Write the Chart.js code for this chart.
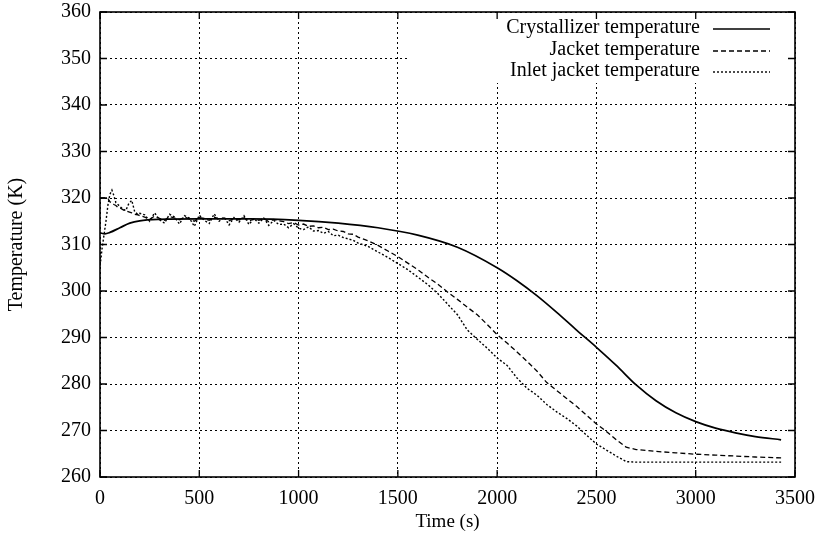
<!DOCTYPE html>
<html>
<head>
<meta charset="utf-8">
<script src="https://cdn.jsdelivr.net/npm/chart.js@4/dist/chart.umd.min.js"></script>
<style>
  html, body { margin: 0; padding: 0; background: #fff; }
  #wrap { width: 821px; height: 543px; }
</style>
</head>
<body>
<div id="wrap"><canvas id="tempChart" width="821" height="543"></canvas></div>
<script>
/* Values */
var seriesNames = ['Crystallizer temperature', 'Jacket temperature', 'Inlet jacket temperature'];
var xTicks = [0, 500, 1000, 1500, 2000, 2500, 3000, 3500];
var yTicks = [260, 270, 280, 290, 300, 310, 320, 330, 340, 350, 360];

var crystTime = [0, 25, 50, 100, 150, 200, 300, 500, 750, 1000, 1200, 1400, 1600, 1800, 2000,
    2100, 2200, 2300, 2400, 2500, 2600, 2700, 2800, 2900, 3000, 3100, 3200, 3300, 3430];
var crystTemp = [312.5, 312.3, 312.6, 313.6, 314.6, 315.1, 315.4, 315.5, 315.5, 315.2, 314.6, 313.6, 312.0, 309.4, 305.0,
    302.2, 299.0, 295.4, 291.6, 287.9, 284.0, 279.8, 276.4, 273.8, 271.9, 270.5, 269.5, 268.7, 268.0];

// sample times shared by the two jacket series
var jacketTime = [0, 5, 10, 20, 30, 40, 50, 60, 70, 80, 90, 100, 115, 130, 145, 160, 175, 190, 200,
    225, 250, 275, 300, 325, 350, 375, 400, 425, 450, 475, 500, 525, 550, 575, 600, 625, 650, 675, 700,
    725, 750, 775, 800, 825, 850, 875, 900,
    925, 950, 975, 1000, 1025, 1050, 1075, 1100, 1125, 1150, 1175, 1200, 1225, 1250, 1275, 1300,
    1350, 1400, 1450, 1500, 1550, 1600, 1650, 1700, 1750, 1800, 1850, 1900, 1950, 2000,
    2050, 2100, 2150, 2200, 2250, 2300, 2350, 2400, 2450, 2500, 2550, 2600, 2650, 2700,
    2800, 2900, 3000, 3100, 3200, 3300, 3430];
var jacketTemp = [320, 320, 320, 320, 320, 319.9, 319.2, 318.9, 318.6, 318.4, 318.0, 317.9, 317.5, 317.2, 317.0, 316.8, 316.5, 316.4, 316.2,
    315.9, 315.4, 316.1, 315.6, 315.2, 316.0, 315.7, 315.3, 315.9, 315.5, 315.0, 315.8, 315.6, 315.2, 315.9, 315.4, 315.7, 315.1,
    315.6, 315.3, 315.8, 315.0, 315.5, 315.2, 315.6, 314.9, 315.4, 315.1,
    314.9, 314.5, 314.7, 314.2, 314.4, 313.9, 314.0, 313.6, 313.7, 313.2, 313.3, 312.9, 312.8, 312.3, 312.2, 311.6,
    310.8, 309.8, 308.6, 307.4, 306.0, 304.6, 303.0, 301.5, 299.8, 298.2, 296.5, 294.9, 292.8, 290.6,
    288.8, 286.9, 284.9, 282.8, 280.3, 278.6, 276.9, 275.2, 273.3, 271.4, 269.8, 268.0, 266.4, 265.9,
    265.5, 265.2, 264.9, 264.7, 264.5, 264.3, 264.1];
var inletTemp = [305.5, 307, 309, 312, 315, 318.5, 320.8, 321.7, 320.5, 319, 318.6, 318.2, 317.6, 317.3, 318.8, 319.5, 317.0, 316.5, 316.7,
    316.4, 315.0, 316.8, 315.3, 314.6, 316.5, 315.9, 314.4, 316.2, 315.7, 313.9, 316.3, 315.2, 314.5, 316.6, 315.0, 315.9, 314.2,
    315.8, 314.8, 316.2, 314.3, 315.6, 314.6, 315.7, 314.1, 315.2, 314.3,
    314.4, 313.6, 314.5, 313.5, 313.2, 313.8, 312.9, 313.0, 312.4, 312.8, 311.9, 312.0, 311.5, 311.2, 310.9, 310.3,
    309.6, 308.4, 307.2, 305.9, 304.6, 303.0, 301.4, 299.5, 297.2, 294.9, 291.6, 289.6, 287.7, 285.6,
    284.0, 281.3, 279.1, 277.6, 275.6, 274.0, 272.6, 271.0, 269.0, 267.1, 265.8, 264.5, 263.3, 263.2,
    263.2, 263.2, 263.2, 263.2, 263.2, 263.2, 263.2];

/* Pair up x and y arrays for a scatter-style line */
function toPoints(xs, ys) {
    var pts = [];
    for (var i = 0; i < xs.length; i++) {
        pts.push({x: xs[i], y: ys[i]});
    }
    return pts;
}

var FONT = 'Liberation Serif, Times New Roman, serif';

/* Frame, inward ticks and the gnuplot style legend */
var framePlugin = {
    id: 'frame',
    beforeDraw: function(chart) {
        var ctx = chart.ctx;
        ctx.save();
        ctx.fillStyle = '#fff';
        ctx.fillRect(0, 0, chart.width, chart.height);
        ctx.restore();
    },
    afterDraw: function(chart) {
        var ctx = chart.ctx;
        var a = chart.chartArea;
        var xs = chart.scales.x, ys = chart.scales.y;
        ctx.save();

        // legend box hides the grid behind it
        ctx.fillStyle = '#fff';
        ctx.fillRect(408, a.top + 1, a.right - 409, 70);

        // frame
        ctx.strokeStyle = '#000';
        ctx.lineWidth = 1.6;
        ctx.setLineDash([]);
        ctx.strokeRect(a.left, a.top, a.right - a.left, a.bottom - a.top);

        // inward tick marks on all four sides
        ctx.lineWidth = 1.3;
        ctx.beginPath();
        xTicks.forEach(function(v) {
            var px = xs.getPixelForValue(v);
            ctx.moveTo(px, a.bottom); ctx.lineTo(px, a.bottom - 7);
            ctx.moveTo(px, a.top); ctx.lineTo(px, a.top + 7);
        });
        yTicks.forEach(function(v) {
            var py = ys.getPixelForValue(v);
            ctx.moveTo(a.left, py); ctx.lineTo(a.left + 7, py);
            ctx.moveTo(a.right, py); ctx.lineTo(a.right - 7, py);
        });
        ctx.stroke();

        // legend entries
        ctx.font = '20px ' + FONT;
        ctx.fillStyle = '#000';
        ctx.textAlign = 'right';
        ctx.textBaseline = 'middle';
        var rowY = [28, 50, 71];
        chart.data.datasets.forEach(function(ds, i) {
            ctx.fillText(ds.label, 700, rowY[i]);
            ctx.beginPath();
            ctx.lineWidth = ds.borderWidth;
            ctx.setLineDash(ds.borderDash || []);
            ctx.moveTo(713, rowY[i] + 1);
            ctx.lineTo(770, rowY[i] + 1);
            ctx.stroke();
        });
        ctx.restore();
    }
};

function plainLabel(v) {
    return String(v);
}

var ctx = document.getElementById('tempChart').getContext('2d');
var chart = new Chart(ctx, {
    type: 'line',
    data: {
        datasets: [{
            label: seriesNames[0],
            data: toPoints(crystTime, crystTemp),
            borderColor: '#000',
            borderWidth: 1.7,
            cubicInterpolationMode: 'monotone',
            pointRadius: 0
        }, {
            label: seriesNames[1],
            data: toPoints(jacketTime, jacketTemp),
            borderColor: '#000',
            borderWidth: 1.3,
            borderDash: [5, 3],
            tension: 0,
            pointRadius: 0
        }, {
            label: seriesNames[2],
            data: toPoints(jacketTime, inletTemp),
            borderColor: '#000',
            borderWidth: 1.4,
            borderDash: [2, 2],
            tension: 0,
            pointRadius: 0
        }]
    },
    options: {
        responsive: false,
        animation: false,
        layout: { padding: { top: 12, right: 26, left: 0, bottom: 0 } },
        plugins: {
            legend: { display: false },
            tooltip: { enabled: false }
        },
        scales: {
            x: {
                type: 'linear',
                min: 0,
                max: 3500,
                afterBuildTicks: function(s) { s.ticks = xTicks.map(function(v) { return {value: v}; }); },
                afterFit: function(s) { s.height = 66; s.paddingLeft = 0; s.paddingRight = 0; },
                ticks: { color: '#000', padding: 10, maxRotation: 0, callback: plainLabel,
                    font: { family: FONT, size: 20 } },
                grid: { color: '#000', lineWidth: 1, drawTicks: false },
                border: { display: false, dash: [2, 3] },
                title: { display: true, text: 'Time (s)', color: '#000', padding: { top: 0, bottom: 10 },
                    font: { family: FONT, size: 19 } }
            },
            y: {
                type: 'linear',
                min: 260,
                max: 360,
                afterBuildTicks: function(s) { s.ticks = yTicks.map(function(v) { return {value: v}; }); },
                afterFit: function(s) { s.width = 100; s.paddingTop = 0; s.paddingBottom = 0; },
                ticks: { color: '#000', padding: 9, callback: plainLabel, font: { family: FONT, size: 20 } },
                grid: { color: '#000', lineWidth: 1, drawTicks: false },
                border: { display: false, dash: [2, 3] },
                title: { display: true, text: 'Temperature (K)', color: '#000', padding: { top: 5, bottom: 4 },
                    font: { family: FONT, size: 20 } }
            }
        }
    },
    plugins: [framePlugin]
});
</script>
</body>
</html>
